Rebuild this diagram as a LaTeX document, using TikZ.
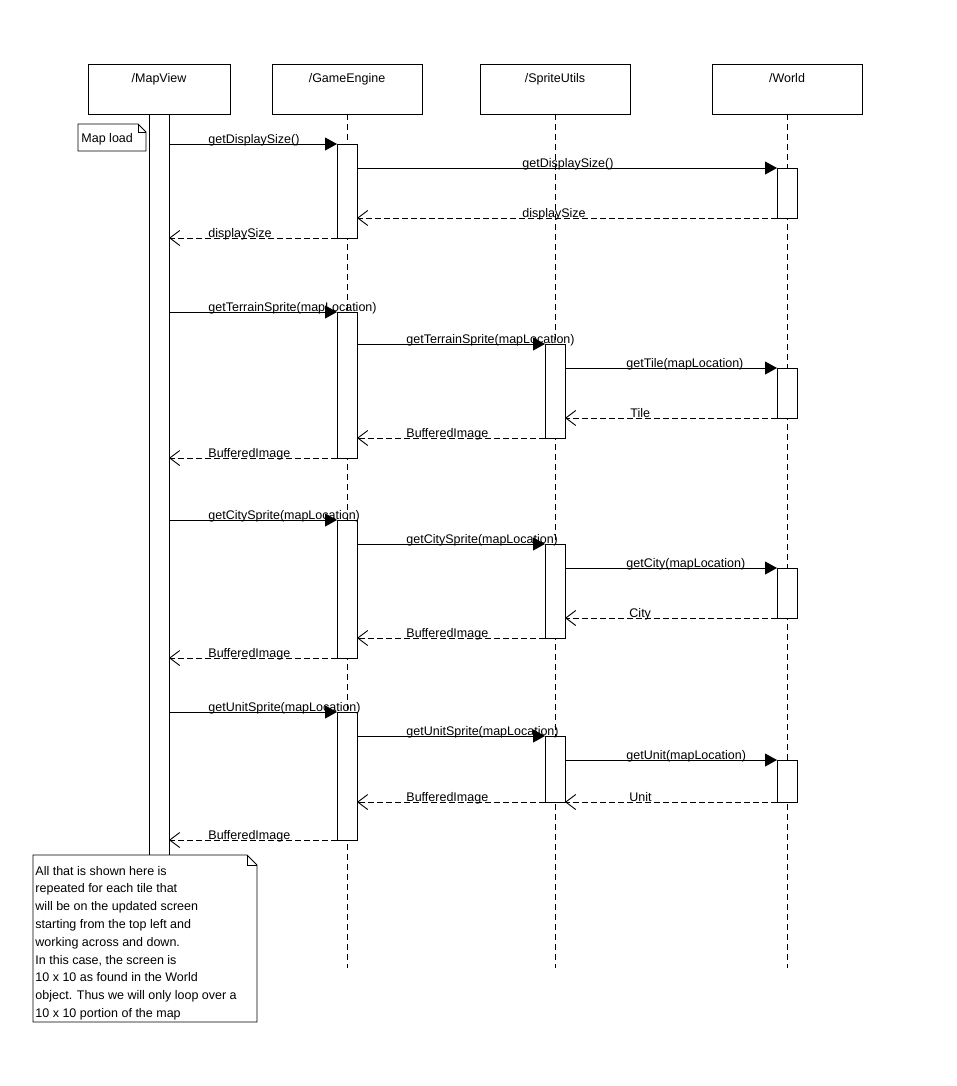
\documentclass[tikz,border=0pt]{standalone}
\usepackage{fontspec}
\setmainfont{Liberation Sans}
\usetikzlibrary{arrows.meta,shadows}
\begin{document}
\begin{tikzpicture}[x=1pt,y=-1pt,line width=0.9pt,
  font=\fontsize{12.5}{17.8}\selectfont,
  headbox/.style={draw,fill=white,minimum width=142pt,minimum height=50pt,inner sep=0pt,outer sep=0pt,anchor=north west,
    general shadow={shadow xshift=1pt,shadow yshift=-1pt,fill=black!25}},
  headtxt/.style={anchor=north,inner sep=0pt},
  act/.style={draw,fill=white,minimum width=20pt,inner sep=0pt,outer sep=0pt,anchor=north,
    general shadow={shadow xshift=1pt,shadow yshift=-1pt,fill=black!25}},
  lifeline/.style={dash pattern=on 6pt off 4pt},
  sync/.style={-{Triangle[length=12pt,width=13pt]}},
  reply/.style={dash pattern=on 6pt off 3pt,-{Straight Barb[length=10pt,width=15pt,line width=0.9pt]}},
  lbl/.style={anchor=base west,inner sep=0pt,yshift=-1.5pt}]
\useasboundingbox (0,0) rectangle (957,1086);

% lifeline heads
\node[headbox] (hmv) at (88,64) {};
\node[headbox,minimum width=150pt] (hge) at (272,64) {};
\node[headbox,minimum width=150pt] (hsu) at (480,64) {};
\node[headbox,minimum width=150pt] (hw) at (712,64) {};
\node[headtxt] (tmv) at (159,72.5) {/MapView};
\node[headtxt] (tge) at (347,72.5) {/GameEngine};
\node[headtxt] (tsu) at (555,72.5) {/SpriteUtils};
\node[headtxt] (tw) at (787,72.5) {/World};

% dashed lifelines
\coordinate (ege) at (347,968);
\coordinate (esu) at (555,968);
\coordinate (ew) at (787,968);
\draw[lifeline] (hge.south) -- (ege);
\draw[lifeline] (hsu.south) -- (esu);
\draw[lifeline] (hw.south) -- (ew);

% MapView activation
\node[act,minimum height=741pt] (mv) at (159,114) {};

% activations
\node[act,minimum height=94pt]  (ge1) at (347,144) {};
\node[act,minimum height=50pt]  (w1)  at (787,168) {};

\node[act,minimum height=146pt] (ge2) at (347,312) {};
\node[act,minimum height=94pt]  (su2) at (555,344) {};
\node[act,minimum height=50pt]  (w2)  at (787,368) {};

\node[act,minimum height=138pt] (ge3) at (347,520) {};
\node[act,minimum height=94pt]  (su3) at (555,544) {};
\node[act,minimum height=50pt]  (w3)  at (787,568) {};

\node[act,minimum height=128pt] (ge4) at (347,712) {};
\node[act,minimum height=66pt]  (su4) at (555,736) {};
\node[act,minimum height=42pt]  (w4)  at (787,760) {};

% Map load note
\draw[fill=white] (78,124) -- (138,124) -- (146,132) -- (146,151) -- (78,151) -- cycle;
\draw (138,124) -- (138,132) -- (146,132);
\node[anchor=west,inner sep=0pt] (nload) at (81,139.5) {Map load};

% block 1
\draw[sync] (mv.east |- ge1.north) -- (ge1.north west);
\node[lbl] (l1) at (208,142) {getDisplaySize()};
\draw[sync] (ge1.east |- w1.north) -- (w1.north west);
\node[lbl] (l2) at (522,166) {getDisplaySize()};
\draw[reply] (w1.south west) -- (w1.south west -| ge1.east);
\node[lbl] (l3) at (522,216) {displaySize};
\draw[reply] (ge1.south west) -- (ge1.south west -| mv.east);
\node[lbl] (l4) at (208,236) {displaySize};

% block 2
\draw[sync] (mv.east |- ge2.north) -- (ge2.north west);
\node[lbl] (l5) at (208,310) {getTerrainSprite(mapLocation)};
\draw[sync] (ge2.east |- su2.north) -- (su2.north west);
\node[lbl] (l6) at (406,342) {getTerrainSprite(mapLocation)};
\draw[sync] (su2.east |- w2.north) -- (w2.north west);
\node[lbl] (l7) at (626,366) {getTile(mapLocation)};
\draw[reply] (w2.south west) -- (w2.south west -| su2.east);
\node[lbl] (l8) at (630,416) {Tile};
\draw[reply] (su2.south west) -- (su2.south west -| ge2.east);
\node[lbl] (l9) at (406,436) {BufferedImage};
\draw[reply] (ge2.south west) -- (ge2.south west -| mv.east);
\node[lbl] (l10) at (208,456) {BufferedImage};

% block 3
\draw[sync] (mv.east |- ge3.north) -- (ge3.north west);
\node[lbl] (l11) at (208,518) {getCitySprite(mapLocation)};
\draw[sync] (ge3.east |- su3.north) -- (su3.north west);
\node[lbl] (l12) at (406,542) {getCitySprite(mapLocation)};
\draw[sync] (su3.east |- w3.north) -- (w3.north west);
\node[lbl] (l13) at (626,566) {getCity(mapLocation)};
\draw[reply] (w3.south west) -- (w3.south west -| su3.east);
\node[lbl] (l14) at (629,616) {City};
\draw[reply] (su3.south west) -- (su3.south west -| ge3.east);
\node[lbl] (l15) at (406,636) {BufferedImage};
\draw[reply] (ge3.south west) -- (ge3.south west -| mv.east);
\node[lbl] (l16) at (208,656) {BufferedImage};

% block 4
\draw[sync] (mv.east |- ge4.north) -- (ge4.north west);
\node[lbl] (l17) at (208,710) {getUnitSprite(mapLocation)};
\draw[sync] (ge4.east |- su4.north) -- (su4.north west);
\node[lbl] (l18) at (406,734) {getUnitSprite(mapLocation)};
\draw[sync] (su4.east |- w4.north) -- (w4.north west);
\node[lbl] (l19) at (626,758) {getUnit(mapLocation)};
\draw[reply] (w4.south west) -- (w4.south west -| su4.east);
\node[lbl] (l20) at (629,800) {Unit};
\draw[reply] (su4.south west) -- (su4.south west -| ge4.east);
\node[lbl] (l21) at (406,800) {BufferedImage};
\draw[reply] (ge4.south west) -- (ge4.south west -| mv.east);
\node[lbl] (l22) at (208,838) {BufferedImage};

% closing note
\draw[fill=white] (33,855) -- (247,855) -- (257,865) -- (257,1022) -- (33,1022) -- cycle;
\draw (247,855) -- (247,865) -- (257,865);
\node[anchor=north west,inner sep=0pt,align=left] (nloop) at (35,865.5) {All that is shown here is\\
repeated for each tile that\\
will be on the updated screen\\
starting from the top left and\\
working across and down.\\
In this case, the screen is\\
10 x 10 as found in the World\\
object. Thus we will only loop over a\\
10 x 10 portion of the map};
\end{tikzpicture}
\end{document}
